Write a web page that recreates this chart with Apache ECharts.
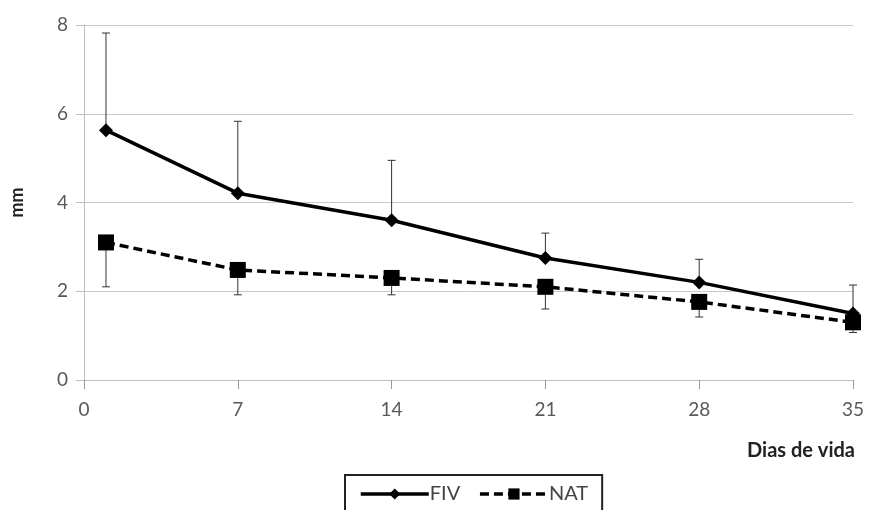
<!DOCTYPE html>
<html>
<head>
<meta charset="utf-8">
<script src="https://cdn.jsdelivr.net/npm/echarts@6/dist/echarts.min.js"></script>
<style>html,body{margin:0;padding:0;background:#fff;}#c{width:869px;height:510px;}</style>
</head>
<body>
<div id="c"></div>
<script>
var days = [1, 7, 14, 21, 28, 35];
var fivMean = [5.63, 4.21, 3.60, 2.75, 2.20, 1.50];
var fivUpper = [7.82, 5.83, 4.95, 3.31, 2.72, 2.14];
var natMean = [3.10, 2.48, 2.30, 2.10, 1.76, 1.30];
var natLower = [2.10, 1.92, 1.92, 1.60, 1.42, 1.07];
var xTicks = [0, 7, 14, 21, 28, 35];
var yTicks = [0, 2, 4, 6, 8];

var FONT = 'Lato, "Open Sans", sans-serif';
function pairs(xs, ys) { return xs.map(function (x, i) { return [x, ys[i]]; }); }
function errData(xs, a, b) { return xs.map(function (x, i) { return [x, a[i], b[i]]; }); }

function errRender(params, api) {
  var x = api.value(0);
  var p1 = api.coord([x, api.value(1)]);
  var p2 = api.coord([x, api.value(2)]);
  var w = 4;
  var st = { stroke: '#333', lineWidth: 1 };
  return {
    type: 'group',
    children: [
      { type: 'line', shape: { x1: p1[0], y1: p1[1], x2: p2[0], y2: p2[1] }, style: st },
      { type: 'line', shape: { x1: p2[0] - w, y1: p2[1], x2: p2[0] + w, y2: p2[1] }, style: st }
    ]
  };
}

var chart = echarts.init(document.getElementById('c'), null, { renderer: 'canvas' });
chart.setOption({
  animation: false,
  backgroundColor: '#fff',
  grid: { left: 84, right: 16, top: 25, bottom: 130, containLabel: false },
  xAxis: {
    type: 'value', min: 0, max: 35, interval: 7,
    axisLine: { show: true, lineStyle: { color: '#bfbfbf', width: 1 } },
    axisTick: { show: true, length: 9, lineStyle: { color: '#999' } },
    axisLabel: { color: '#595959', fontSize: 19, fontFamily: FONT, margin: 20,
      formatter: function (v) { return xTicks.indexOf(v) >= 0 ? String(v) : ''; } },
    splitLine: { show: false }
  },
  yAxis: {
    type: 'value', min: 0, max: 8, interval: 2,
    name: 'mm', nameLocation: 'middle', nameGap: 58, nameRotate: 90,
    nameTextStyle: { color: '#222', fontSize: 18, fontWeight: 'bold', fontFamily: FONT },
    axisLine: { show: true, lineStyle: { color: '#bfbfbf', width: 1 } },
    axisTick: { show: true, length: 8, lineStyle: { color: '#bfbfbf' } },
    axisLabel: { color: '#595959', fontSize: 19, fontFamily: FONT, margin: 16,
      formatter: function (v) { return yTicks.indexOf(v) >= 0 ? String(v) : ''; } },
    splitLine: { show: true, lineStyle: { color: '#c8c8c8', width: 1 } }
  },
  graphic: [
    { type: 'text', right: 14, top: 441,
      style: { text: 'Dias de vida', fill: '#222', font: 'bold 20px ' + FONT } }
  ],
  legend: {
    bottom: -16, left: 345,
    data: ['FIV', 'NAT'],
    itemWidth: 68, itemHeight: 14, itemGap: 18,
    borderColor: '#222', borderWidth: 2, borderRadius: 0,
    padding: [9, 14, 22, 14],
    lineStyle: { width: 3.5 },
    textStyle: { color: '#444', fontSize: 20, fontFamily: FONT, padding: [0, 0, 0, -4] }
  },
  series: [
    { type: 'custom', name: 'errFIV', renderItem: errRender, data: errData(days, fivMean, fivUpper), z: 1, silent: true },
    { type: 'custom', name: 'errNAT', renderItem: errRender, data: errData(days, natMean, natLower), z: 1, silent: true },
    { type: 'line', name: 'FIV', data: pairs(days, fivMean), symbol: 'diamond', symbolSize: 14,
      lineStyle: { color: '#000', width: 3.5, type: 'solid' }, itemStyle: { color: '#000' }, z: 3 },
    { type: 'line', name: 'NAT', data: pairs(days, natMean), symbol: 'rect', symbolSize: 16,
      lineStyle: { color: '#000', width: 3.5, type: [9, 5] }, itemStyle: { color: '#000' }, z: 3 }
  ]
});
</script>
</body>
</html>
